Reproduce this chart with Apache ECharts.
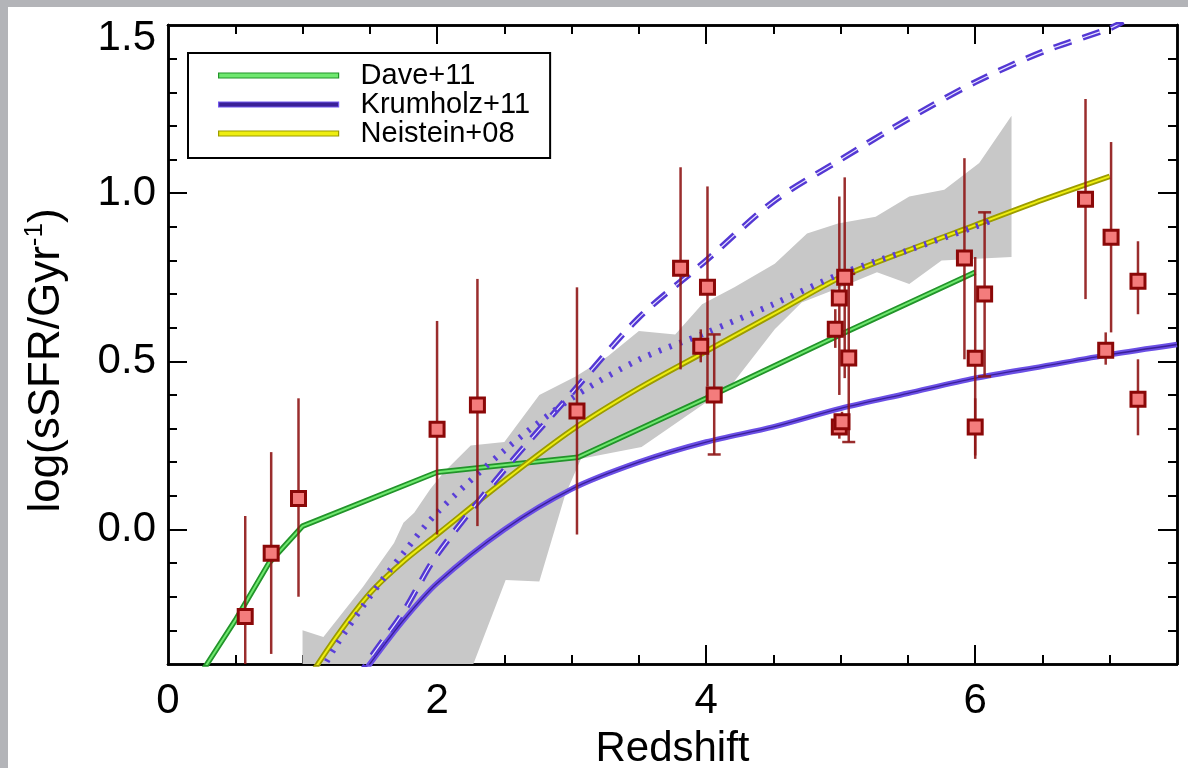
<!DOCTYPE html>
<html><head><meta charset="utf-8">
<script src="https://cdn.jsdelivr.net/npm/echarts@6/dist/echarts.min.js"></script>
<style>
html,body{margin:0;padding:0;width:1188px;height:768px;background:#b3b4b8;overflow:hidden}
#chart{position:absolute;left:8px;top:7px;width:1180px;height:761px;background:#fff}
</style></head><body><div id="chart"></div>
<script>
// ---- ticks ----
const xTicksMinor = [0.5,1,1.5,2,2.5,3,3.5,4,4.5,5,5.5,6,6.5,7];
const xTicksMajor = [2,4,6];
const xTickLabels = [0,2,4,6];
const yTicksMinor = [-0.3,-0.2,-0.1,0,0.1,0.2,0.3,0.4,0.5,0.6,0.7,0.8,0.9,1.0,1.1,1.2,1.3,1.4];
const yTicksMajor = [0,0.5,1.0];
const yTickLabels = [0,0.5,1.0,1.5];

// ---- model curves ----
const daveX = [0.25,0.5,0.75,1.0,2.0,3.05,4.0,5.0,6.0];
const daveY = [-0.425,-0.27,-0.10,0.01,0.17,0.215,0.39,0.58,0.765];
const krumX = [1.45,1.5,1.75,2.0,2.5,3.0,3.5,4.0,4.5,5.0,5.5,6.0,6.5,7.0,7.5];
const krumY = [-0.43,-0.40,-0.27,-0.16,0.0,0.12,0.20,0.26,0.305,0.36,0.405,0.45,0.485,0.52,0.55];
const neisX = [1.0,1.25,1.5,1.75,2.0,2.5,3.0,3.5,4.0,4.5,5.0,5.5,6.0,6.5,7.0];
const neisY = [-0.47,-0.32,-0.19,-0.095,-0.015,0.145,0.295,0.42,0.53,0.64,0.75,0.83,0.905,0.98,1.05];
const dashX = [1.4,1.5,1.75,2.0,2.5,3.0,3.5,4.0,4.5,5.0,5.5,6.0,6.5,7.0,7.1];
const dashY = [-0.45,-0.385,-0.245,-0.075,0.177,0.405,0.63,0.80,0.975,1.10,1.22,1.33,1.42,1.49,1.51];
const dotX = [1.1,1.25,1.5,1.75,2.0,2.5,3.0,3.5,4.0,4.5,5.0,5.5,6.0,6.13];
const dotY = [-0.45,-0.345,-0.20,-0.07,0.05,0.235,0.39,0.505,0.585,0.67,0.76,0.83,0.90,0.92];

// ---- shaded band ----
const bandUpperX = [1.0,1.155,1.45,1.68,1.75,1.83,1.95,2.05,2.25,2.50,2.76,3.03,3.27,3.50,3.77,3.97,4.21,4.51,4.75,4.98,5.26,5.51,5.77,6.03,6.27];
const bandUpperY = [-0.30,-0.32,-0.17,-0.04,0.02,0.05,0.12,0.17,0.25,0.26,0.40,0.455,0.515,0.59,0.58,0.67,0.72,0.79,0.88,0.91,0.93,0.99,1.01,1.09,1.23];
const bandLowerX = [1.0,2.27,2.51,2.76,2.95,3.07,3.52,4.19,4.51,4.71,5.0,5.27,5.51,5.75,6.27];
const bandLowerY = [-0.40,-0.40,-0.15,-0.155,0.10,0.21,0.245,0.43,0.595,0.675,0.72,0.765,0.73,0.80,0.81];

// ---- observations ----
const obsX  = [0.574,0.767,0.97,2.0,2.30,3.04,3.81,4.01,3.96,4.06,4.96,4.99,5.03,5.06,4.99,5.01,5.92,6.0,6.0,6.07,6.82,7.01,6.97,7.21,7.21];
const obsY  = [-0.259,-0.071,0.092,0.298,0.37,0.352,0.777,0.72,0.545,0.40,0.595,0.688,0.75,0.51,0.305,0.32,0.807,0.509,0.305,0.70,0.982,0.869,0.533,0.738,0.387];
const obsLo = [-0.56,-0.37,-0.20,-0.015,0.01,-0.015,0.476,0.425,0.497,0.223,0.54,0.40,0.45,0.26,0.27,0.29,0.506,0.21,0.22,0.455,0.685,0.586,0.49,0.64,0.28];
const obsHi = [0.04,0.23,0.39,0.62,0.745,0.72,1.077,1.02,0.595,0.58,0.655,0.99,1.047,0.76,0.34,0.35,1.104,0.81,0.39,0.943,1.28,1.152,0.586,0.857,0.506];
const obsCap = [0,0,0,0,0,0,0,0,0,1,0,0,0,1,0,0,0,0,0,1,0,0,0,0,0];

const FONT = '"Liberation Sans", Arial, Helvetica, sans-serif';
const zip = (a,b)=>a.map((v,i)=>[v,b[i]]);

function xAx(pos, ticks, len, labels, name) {
  const a = {type:'value', gridIndex:0, position:pos, min:0, max:7.5,
    axisLine:{show:true,onZero:false,lineStyle:{color:'#000',width:2.5}},
    axisTick:{show:true,inside:true,length:len,customValues:ticks,lineStyle:{color:'#000',width:2}},
    axisLabel: labels ? {show:true,customValues:labels,margin:16,color:'#000',fontSize:42,fontFamily:FONT,formatter:v=>String(Math.round(v))} : {show:false},
    splitLine:{show:false}};
  if (name) { Object.assign(a,{name:name,nameLocation:'middle',nameGap:64,nameTextStyle:{color:'#000',fontSize:42,fontFamily:FONT}}); }
  return a;
}
function yAx(pos, ticks, len, labels, name) {
  const a = {type:'value', gridIndex:0, position:pos, min:-0.4, max:1.5,
    axisLine:{show:true,onZero:false,lineStyle:{color:'#000',width:2.5}},
    axisTick:{show:true,inside:true,length:len,customValues:ticks,lineStyle:{color:'#000',width:2}},
    axisLabel: labels ? {show:true,customValues:labels,margin:12,color:'#000',fontSize:42,lineHeight:26,fontFamily:FONT,verticalAlignMaxLabel:'top',formatter:v=>v.toFixed(1)} : {show:false},
    splitLine:{show:false}};
  if (name) { Object.assign(a,{name:name,nameLocation:'middle',nameGap:96,
    nameTextStyle:{color:'#000',fontSize:44,fontFamily:FONT,lineHeight:50,padding:[0,32,0,0],
      rich:{sup:{fontSize:26,fontFamily:FONT,color:'#000',verticalAlign:'top',lineHeight:30}}}}); }
  return a;
}

function lineSeries(name, xs, ys, color, width, type, smooth, z) {
  return {type:'line', name:name, data:zip(xs,ys), xAxisIndex:0, yAxisIndex:0, showSymbol:false, symbol:'none',
    smooth:smooth, clip:true, z:z, silent:true, lineStyle:{color:color,width:width,type:type}, itemStyle:{color:color}};
}

const option = {
  animation:false,
  grid:{left:160, top:18, right:11, bottom:104, outerBoundsMode:'none'},
  xAxis:[ xAx('bottom', xTicksMinor, 9, xTickLabels, 'Redshift'), xAx('bottom', xTicksMajor, 19, null),
          xAx('top', xTicksMinor, 9, null), xAx('top', xTicksMajor, 19, null) ],
  yAxis:[ yAx('left', yTicksMinor, 9, yTickLabels, 'log(sSFR/Gyr{sup|-1})'), yAx('left', yTicksMajor, 19, null),
          yAx('right', yTicksMinor, 9, null), yAx('right', yTicksMajor, 19, null) ],
  legend:{show:true, orient:'vertical', left:180, top:46, selectedMode:false,
    borderColor:'#000', borderWidth:2, backgroundColor:'#fff', padding:[8,20,10,30],
    itemWidth:120, itemHeight:5, itemGap:0,
    textStyle:{color:'#000', fontSize:29, fontFamily:FONT, lineHeight:28, padding:[0,0,0,17]},
    data:[
      {name:'Dave+11', icon:'rect', itemStyle:{color:'#6fe86f', borderColor:'#22942a', borderWidth:1.2}},
      {name:'Krumholz+11', icon:'rect', itemStyle:{color:'#3a2098', borderColor:'#7258ee', borderWidth:1.2}},
      {name:'Neistein+08', icon:'rect', itemStyle:{color:'#eeee10', borderColor:'#9c9c00', borderWidth:1.2}}
    ]},
  series:[
    {type:'custom', name:'band', xAxisIndex:0, yAxisIndex:0, silent:true, z:1,
      data:[[bandUpperX[0], bandUpperY[0]]],
      renderItem:(params, api)=>{
        const pts=[];
        for (let i=0;i<bandUpperX.length;i++) pts.push(api.coord([bandUpperX[i], bandUpperY[i]]));
        for (let i=bandLowerX.length-1;i>=0;i--) pts.push(api.coord([bandLowerX[i], bandLowerY[i]]));
        return {type:'polygon', shape:{points:pts}, style:{fill:'#c8c8c8'}};
      }},
    lineSeries('Dave+11', daveX, daveY, '#22942a', 5.5, 'solid', false, 3),
    lineSeries('Dave+11 core', daveX, daveY, '#6fe86f', 2, 'solid', false, 3),
    lineSeries('Krumholz+11', krumX, krumY, '#6b4fe6', 5.5, 'solid', 0.3, 3),
    lineSeries('Krumholz+11 core', krumX, krumY, '#3a2098', 1.3, 'solid', 0.3, 3),
    lineSeries('Neistein+08', neisX, neisY, '#9c9c00', 5.5, 'solid', 0.3, 3),
    lineSeries('Neistein+08 core', neisX, neisY, '#eeee10', 2, 'solid', 0.3, 3),
    lineSeries('dashed model', dashX, dashY, '#5438d4', 6, [18,12], 0.3, 4),
    lineSeries('dashed model core', dashX, dashY, '#e8e4ff', 1.2, [18,12], 0.3, 4),
    lineSeries('dotted model', dotX, dotY, '#5a3fd8', 6, [2.5,8.5], 0.3, 4),
    {type:'custom', name:'error bars', xAxisIndex:0, yAxisIndex:0, silent:true, z:6, clip:true,
      data: obsX.map((x,i)=>[x, obsLo[i], obsHi[i], obsCap[i]]),
      renderItem:(params, api)=>{
        const x=api.value(0), lo=api.value(1), hi=api.value(2), cap=api.value(3);
        const p1=api.coord([x,hi]), p2=api.coord([x,lo]);
        const st={stroke:'#8f1616', lineWidth:2.5, opacity:0.9};
        const ch=[{type:'line', shape:{x1:p1[0],y1:p1[1],x2:p2[0],y2:p2[1]}, style:st}];
        if (cap) {
          ch.push({type:'line', shape:{x1:p1[0]-6.5,y1:p1[1],x2:p1[0]+6.5,y2:p1[1]}, style:st});
          ch.push({type:'line', shape:{x1:p2[0]-6.5,y1:p2[1],x2:p2[0]+6.5,y2:p2[1]}, style:st});
        }
        return {type:'group', children:ch};
      }},
    {type:'scatter', name:'observations', xAxisIndex:0, yAxisIndex:0, silent:true, z:7,
      data: zip(obsX, obsY), symbol:'rect', symbolSize:14,
      itemStyle:{color:'#f47c7c', borderColor:'#8b0808', borderWidth:3, opacity:1}}
  ]
};
const chart = echarts.init(document.getElementById('chart'), null, {renderer:'canvas'});
chart.setOption(option);
</script></body></html>
